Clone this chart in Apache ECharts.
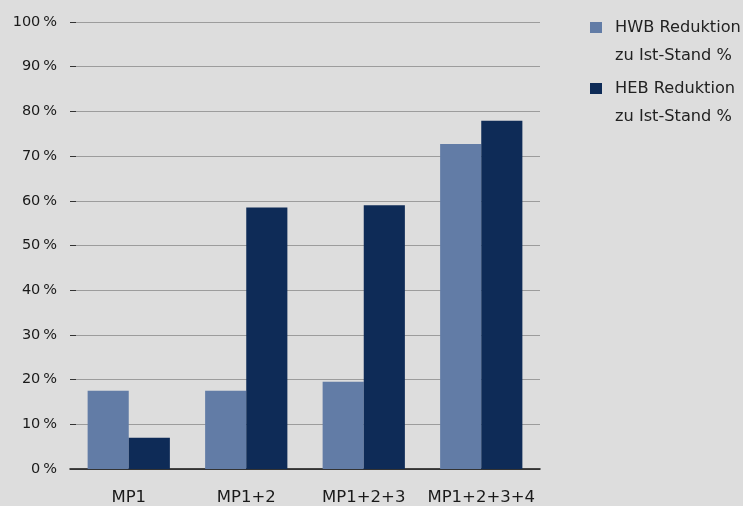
<!DOCTYPE html>
<html>
<head>
<meta charset="utf-8">
<script src="https://cdn.jsdelivr.net/npm/echarts@6/dist/echarts.min.js"></script>
<style>
  html, body { margin: 0; padding: 0; background: #dddddd; }
  #chart { width: 743px; height: 506px; }
</style>
</head>
<body>
<div id="chart"></div>
<script>
// Reduction relative to current state, per measure package
const categories = ['MP1', 'MP1+2', 'MP1+2+3', 'MP1+2+3+4'];
const hwbValues = [17.5, 17.5, 19.5, 72.7];
const hebValues = [7, 58.5, 59, 77.9];
const seriesNames = ['HWB Reduktion\nzu Ist-Stand %', 'HEB Reduktion\nzu Ist-Stand %'];
const yTicks = [0, 10, 20, 30, 40, 50, 60, 70, 80, 90, 100];

const FONT = 'DejaVu Sans';
// square marker sitting at the top of a taller icon box
const legendIcon = 'path://M0,0H12V11H0Z M20,40';

const chart = echarts.init(document.getElementById('chart'), null, { renderer: 'canvas' });
chart.setOption({
  backgroundColor: '#dddddd',
  animation: false,
  grid: { left: 70, right: 203, top: 22, bottom: 33, containLabel: false },
  legend: {
    orient: 'vertical',
    left: 590,
    top: 14,
    padding: 0,
    itemGap: 5,
    itemWidth: 20,
    itemHeight: 40,
    icon: legendIcon,
    selectedMode: false,
    data: seriesNames,
    textStyle: { fontFamily: FONT, fontSize: 16.2, lineHeight: 28, color: '#222' }
  },
  xAxis: {
    type: 'category',
    data: categories,
    axisLine: { show: true, lineStyle: { color: '#111', width: 1.5 } },
    axisTick: { show: false },
    axisLabel: { interval: 0, fontFamily: FONT, fontSize: 16.5, color: '#1a1a1a', margin: 20 }
  },
  yAxis: {
    type: 'value',
    min: yTicks[0],
    max: yTicks[yTicks.length - 1],
    interval: 10,
    axisLine: { show: false },
    axisTick: { show: true, inside: true, length: 6, lineStyle: { color: '#333', width: 1 } },
    splitLine: { show: true, lineStyle: { color: '#9c9c9c', width: 1 } },
    axisLabel: {
      fontFamily: FONT, fontSize: 14.5, color: '#1a1a1a', margin: 13,
      formatter: v => v + '\u2009%'
    }
  },
  series: [
    {
      name: seriesNames[0], type: 'bar', data: hwbValues,
      barGap: '0%', barCategoryGap: '30%',
      itemStyle: { color: '#627ca6' }
    },
    {
      name: seriesNames[1], type: 'bar', data: hebValues,
      barGap: '0%', barCategoryGap: '30%',
      itemStyle: { color: '#0e2b57' }
    }
  ]
});
</script>
</body>
</html>
